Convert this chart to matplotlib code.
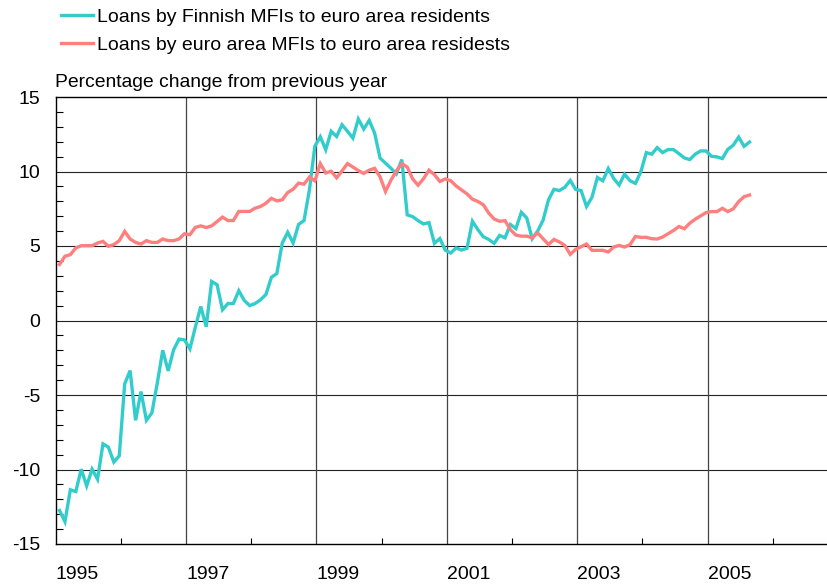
import matplotlib.pyplot as plt
import numpy as np
import pandas as pd
from matplotlib.ticker import FixedLocator, MultipleLocator

plt.rcParams["font.family"] = ["Liberation Sans", "DejaVu Sans"]
plt.rcParams["axes.unicode_minus"] = False

# Monthly observations, Jan 1995 - Aug 2005
months = pd.date_range("1995-01-01", periods=128, freq="MS")

finnish = [
    -12.75, -13.5, -11.36, -11.48, -9.98, -11.1, -9.98, -10.65, -8.28, -8.5, -9.5, -9.08,
    -4.25, -3.36, -6.7, -4.77, -6.7, -6.2, -4.2, -2.0, -3.38, -1.97, -1.25, -1.3,
    -1.9, -0.45, 0.94, -0.42, 2.62, 2.4, 0.72, 1.14, 1.14, 2.0, 1.35, 1.0,
    1.14, 1.39, 1.75, 2.9, 3.15, 5.2, 5.92, 5.2, 6.45, 6.7, 8.77, 11.7,
    12.33, 11.46, 12.7, 12.35, 13.14, 12.7, 12.24, 13.52, 12.85, 13.43, 12.58, 10.9,
    10.56, 10.22, 9.84, 10.8, 7.09, 6.97, 6.7, 6.48, 6.57, 5.18, 5.5, 4.72,
    4.53, 4.87, 4.73, 4.85, 6.66, 6.1, 5.62, 5.44, 5.18, 5.71, 5.55, 6.44,
    6.17, 7.26, 6.88, 5.49, 6.0, 6.73, 8.1, 8.8, 8.72, 8.94, 9.4, 8.8,
    8.72, 7.65, 8.27, 9.6, 9.38, 10.2, 9.53, 9.09, 9.82, 9.38, 9.2, 9.98,
    11.27, 11.16, 11.6, 11.27, 11.47, 11.47, 11.2, 10.91, 10.8, 11.16, 11.38, 11.38,
    11.02, 10.98, 10.87, 11.49, 11.76, 12.31, 11.69, 11.98,
]

euro_area = [
    3.76, 4.31, 4.42, 4.87, 5.02, 5.02, 5.02, 5.2, 5.31, 4.98, 5.09, 5.36,
    5.98, 5.47, 5.24, 5.13, 5.36, 5.24, 5.24, 5.47, 5.36, 5.36, 5.47, 5.82,
    5.76, 6.25, 6.35, 6.24, 6.35, 6.64, 6.94, 6.71, 6.71, 7.32, 7.32, 7.32,
    7.54, 7.65, 7.87, 8.2, 8.03, 8.1, 8.59, 8.81, 9.22, 9.15, 9.62, 9.37,
    10.53, 9.9, 10.02, 9.58, 10.04, 10.53, 10.3, 10.06, 9.87, 10.09, 10.21, 9.64,
    8.66, 9.42, 10.04, 10.53, 10.3, 9.5, 9.08, 9.52, 10.09, 9.79, 9.33, 9.5,
    9.38, 9.03, 8.76, 8.5, 8.14, 7.99, 7.77, 7.21, 6.81, 6.66, 6.7, 6.1,
    5.73, 5.66, 5.66, 5.55, 5.88, 5.49, 5.1, 5.44, 5.27, 5.04, 4.44, 4.77,
    4.95, 5.13, 4.71, 4.71, 4.71, 4.6, 4.93, 5.04, 4.93, 5.09, 5.64, 5.58,
    5.58, 5.49, 5.47, 5.6, 5.82, 6.04, 6.31, 6.16, 6.53, 6.8, 7.02, 7.24,
    7.31, 7.31, 7.53, 7.31, 7.49, 7.98, 8.31, 8.42,
]

labels = [
    "Loans by Finnish MFIs to euro area residents",
    "Loans by euro area MFIs to euro area residests",
]
year_ticks = [1995, 1997, 1999, 2001, 2003, 2005]

# plot months at (roughly) month end
x = months.year + (months.month - 0.3) / 12

fig = plt.figure(figsize=(8.27, 5.86), dpi=100)
ax = fig.add_axes([55.7 / 827, 1 - 544 / 586, 1 - 55.7 / 827, (544 - 97) / 586])

l1, = ax.plot(x, finnish, color="#33CCCC", lw=2.4, solid_joinstyle="miter")
l2, = ax.plot(x, euro_area, color="#FF7F7F", lw=2.4, solid_joinstyle="miter")

ax.set_xlim(1995, 2006.83)
ax.set_ylim(-15, 15)

for yv in [-10, -5, 0, 5, 10]:
    ax.axhline(yv, color="#222222", lw=0.8, zorder=0)
for xv in year_ticks[1:]:
    ax.axvline(xv, color="#444444", lw=0.9, zorder=0)

ax.xaxis.set_major_locator(FixedLocator(year_ticks))
ax.xaxis.set_minor_locator(MultipleLocator(1))
ax.yaxis.set_major_locator(MultipleLocator(5))
ax.yaxis.set_minor_locator(MultipleLocator(1))
ax.set_xticklabels([str(y) for y in year_ticks], ha="left")

ax.tick_params(axis="both", which="both", direction="in", labelsize=14, color="black")
ax.tick_params(axis="y", which="major", length=0, pad=11)
ax.tick_params(axis="y", which="minor", length=5, width=0.8)
ax.tick_params(axis="x", which="major", length=0, pad=16)
ax.tick_params(axis="x", which="minor", length=4, width=0.8)

ax.spines["right"].set_visible(False)
for s in ["left", "bottom", "top"]:
    ax.spines[s].set_linewidth(1.0)
    ax.spines[s].set_color("black")

fig.text(55 / 827, 1 - 87 / 586, "Percentage change from previous year",
         fontsize=13.9, va="baseline", ha="left")

fig.legend([l1, l2], labels, loc="upper left", bbox_to_anchor=(61 / 827, 1 - 8 / 586),
           frameon=False, fontsize=14, handlelength=1.65, handletextpad=0.2,
           labelspacing=0.55, borderpad=0, borderaxespad=0)

fig.savefig("out.png", dpi=100)
